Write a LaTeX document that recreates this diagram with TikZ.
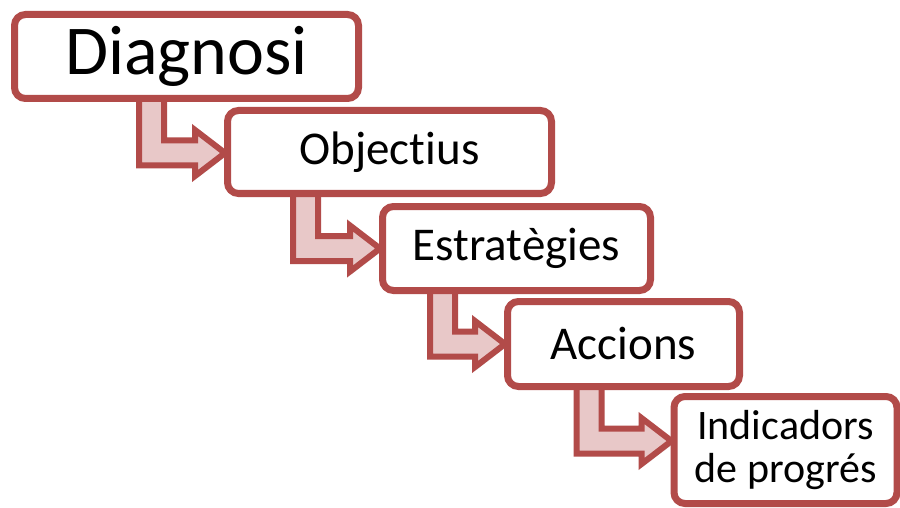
\documentclass[tikz,border=0pt]{standalone}
\usepackage{fontspec}
\setmainfont[Ligatures={NoCommon,NoRare,NoContextual},Contextuals={NoAlternate}]{Carlito}
\usetikzlibrary{calc,shadows}
\definecolor{frame}{RGB}{178,75,73}
\definecolor{pinkfill}{RGB}{232,200,200}
\pgfdeclarelayer{bg}
\pgfsetlayers{bg,main}
\tikzset{
  softshadow/.style={drop shadow={shadow xshift=2pt, shadow yshift=-2.5pt, opacity=0.18}},
  stepbox/.style={draw=frame, line width=7pt, rounded corners=11pt, fill=white,
    align=center, inner sep=0pt, softshadow},
  bentarrow/.style={draw=frame, fill=pinkfill, line width=6pt, line join=miter, softshadow},
}
% bent block arrow: from the bottom of #1 down, then right into the west side of #2;
% #3 = x of the shaft centre, #4 = vertical offset of the tip from the west anchor
\newcommand\bentarrow[4]{%
  \begin{pgfonlayer}{bg}
  \draw[bentarrow] let \p1=(#1.south), \p2=($(#2.west)+(0,#4)$) in
    (#3-12.5,\y1+14) -- (#3-12.5,\y2-12.5) -- (\x2-29,\y2-12.5) -- (\x2-29,\y2-23)
    -- (\x2+1,\y2) -- (\x2-29,\y2+23) -- (\x2-29,\y2+12.5) -- (#3+12.5,\y2+12.5)
    -- (#3+12.5,\y1+14) -- cycle;
  \end{pgfonlayer}}
\begin{document}
\begin{tikzpicture}[x=1pt,y=1pt]
\useasboundingbox (0,0) rectangle (900,-508);

\node[stepbox, minimum width=344, minimum height=84,
  font=\fontsize{70}{80}\selectfont] (diag) at (186.5,-56.5) {Diagnosi};
\node[stepbox, minimum width=324, minimum height=83,
  font=\fontsize{47}{52}\selectfont] (obj) at (389.5,-152) {Objectius};
\node[stepbox, minimum width=268, minimum height=84,
  font=\fontsize{47}{52}\selectfont] (estr) at (516.5,-248.5) {Estratègies};
\node[stepbox, minimum width=232, minimum height=85,
  font=\fontsize{47}{52}\selectfont] (acc) at (623.5,-344) {Accions};
\node[stepbox, minimum width=223, minimum height=107,
  font=\fontsize{42}{43}\selectfont] (ind) at (785.5,-450) {Indicadors\\de progrés};

\bentarrow{diag}{obj}{151.5}{-1}
\bentarrow{obj}{estr}{305.5}{0}
\bentarrow{estr}{acc}{442.5}{0}
\bentarrow{acc}{ind}{589}{9}
\end{tikzpicture}
\end{document}
